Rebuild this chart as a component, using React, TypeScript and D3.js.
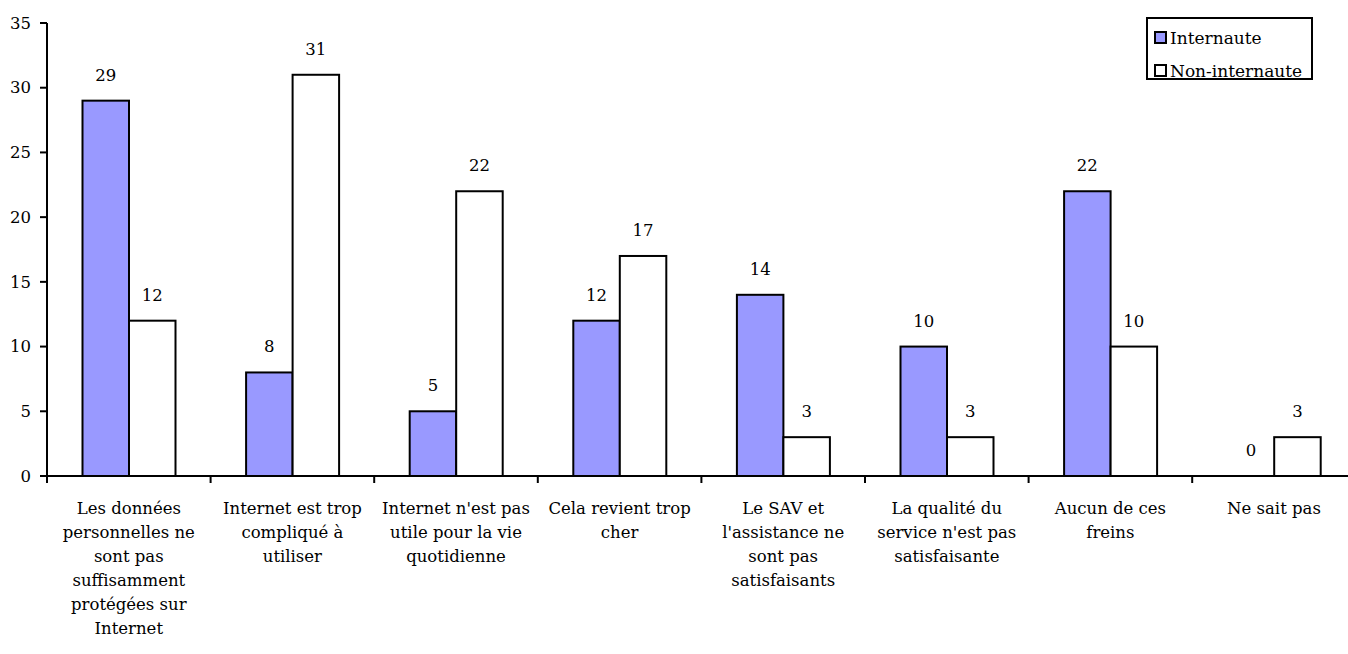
import React from "react";
import * as d3 from "d3";

const categories: string[][] = [
  ["Les données", "personnelles ne", "sont pas", "suffisamment", "protégées sur", "Internet"],
  ["Internet est trop", "compliqué à", "utiliser"],
  ["Internet n'est pas", "utile pour la vie", "quotidienne"],
  ["Cela revient trop", "cher"],
  ["Le SAV et", "l'assistance ne", "sont pas", "satisfaisants"],
  ["La qualité du", "service n'est pas", "satisfaisante"],
  ["Aucun de ces", "freins"],
  ["Ne sait pas"],
];
const seriesNames = ["Internaute", "Non-internaute"];
const internaute = [29, 8, 5, 12, 14, 10, 22, 0];
const nonInternaute = [12, 31, 22, 17, 3, 3, 10, 3];
const yTicks = [0, 5, 10, 15, 20, 25, 30, 35];

const colors = ["#9999FF", "#FFFFFF"];
const FONT = '"DejaVu Serif", serif';

export default function App() {
  const W = 1348, H = 654;
  const x0 = 47;
  const catW = 163.6;
  const keys = categories.map((_, i) => String(i));
  const x = d3.scaleBand<string>().domain(keys).range([x0, x0 + catW * keys.length]).paddingInner(0).paddingOuter(0);
  const xs = d3.scaleBand<string>().domain(seriesNames).range([35.5, 128.5]).padding(0);
  const y = d3.scaleLinear().domain([0, 35]).range([476, 23]);
  const series = [internaute, nonInternaute];
  const fs = 16.5;

  return (
    <svg width={W} height={H} style={{ position: "absolute", left: 0, top: 0, display: "block", background: "#fff", fontFamily: FONT }}>
      {/* bars */}
      {keys.map((k, i) => (
        <g key={k}>
          {seriesNames.map((s, j) => {
            const v = series[j][i];
            const bx = (x(k) as number) + (xs(s) as number);
            const bw = xs.bandwidth();
            return (
              <g key={s}>
                {v > 0 && (
                  <rect x={bx} y={y(v)} width={bw} height={y(0) - y(v)} fill={colors[j]} stroke="#000" strokeWidth={2} />
                )}
                <text x={bx + bw / 2} y={y(v) - 20} textAnchor="middle" fontSize={fs} fill="#000">{v}</text>
              </g>
            );
          })}
        </g>
      ))}
      {/* y axis */}
      <line x1={x0} x2={x0} y1={y(35)} y2={y(0) + 7} stroke="#000" strokeWidth={2} />
      {yTicks.map((t) => (
        <g key={t}>
          <line x1={x0 - 7} x2={x0} y1={y(t)} y2={y(t)} stroke="#000" strokeWidth={2} />
          <text x={31} y={y(t)} dy="0.35em" textAnchor="end" fontSize={fs}>{t}</text>
        </g>
      ))}
      {/* x axis */}
      <line x1={x0 - 7} x2={W} y1={y(0)} y2={y(0)} stroke="#000" strokeWidth={2} />
      {keys.map((k) => (
        <line key={k} x1={x(k) as number} x2={x(k) as number} y1={y(0)} y2={y(0) + 7} stroke="#000" strokeWidth={2} />
      ))}
      {keys.map((k, i) => (
        <text key={k} textAnchor="middle" fontSize={fs}>
          {categories[i].map((line, li) => (
            <tspan key={li} x={(x(k) as number) + x.bandwidth() / 2} y={514 + li * 24}>{line}</tspan>
          ))}
        </text>
      ))}
      {/* legend */}
      <rect x={1147} y={18} width={165} height={61} fill="#fff" stroke="#000" strokeWidth={2} />
      {seriesNames.map((s, j) => (
        <g key={s}>
          <rect x={1155} y={32 + j * 33} width={11} height={11} fill={colors[j]} stroke="#000" strokeWidth={2} />
          <text x={1170} y={38 + j * 33} dy="0.35em" fontSize={17}>{s}</text>
        </g>
      ))}
    </svg>
  );
}
